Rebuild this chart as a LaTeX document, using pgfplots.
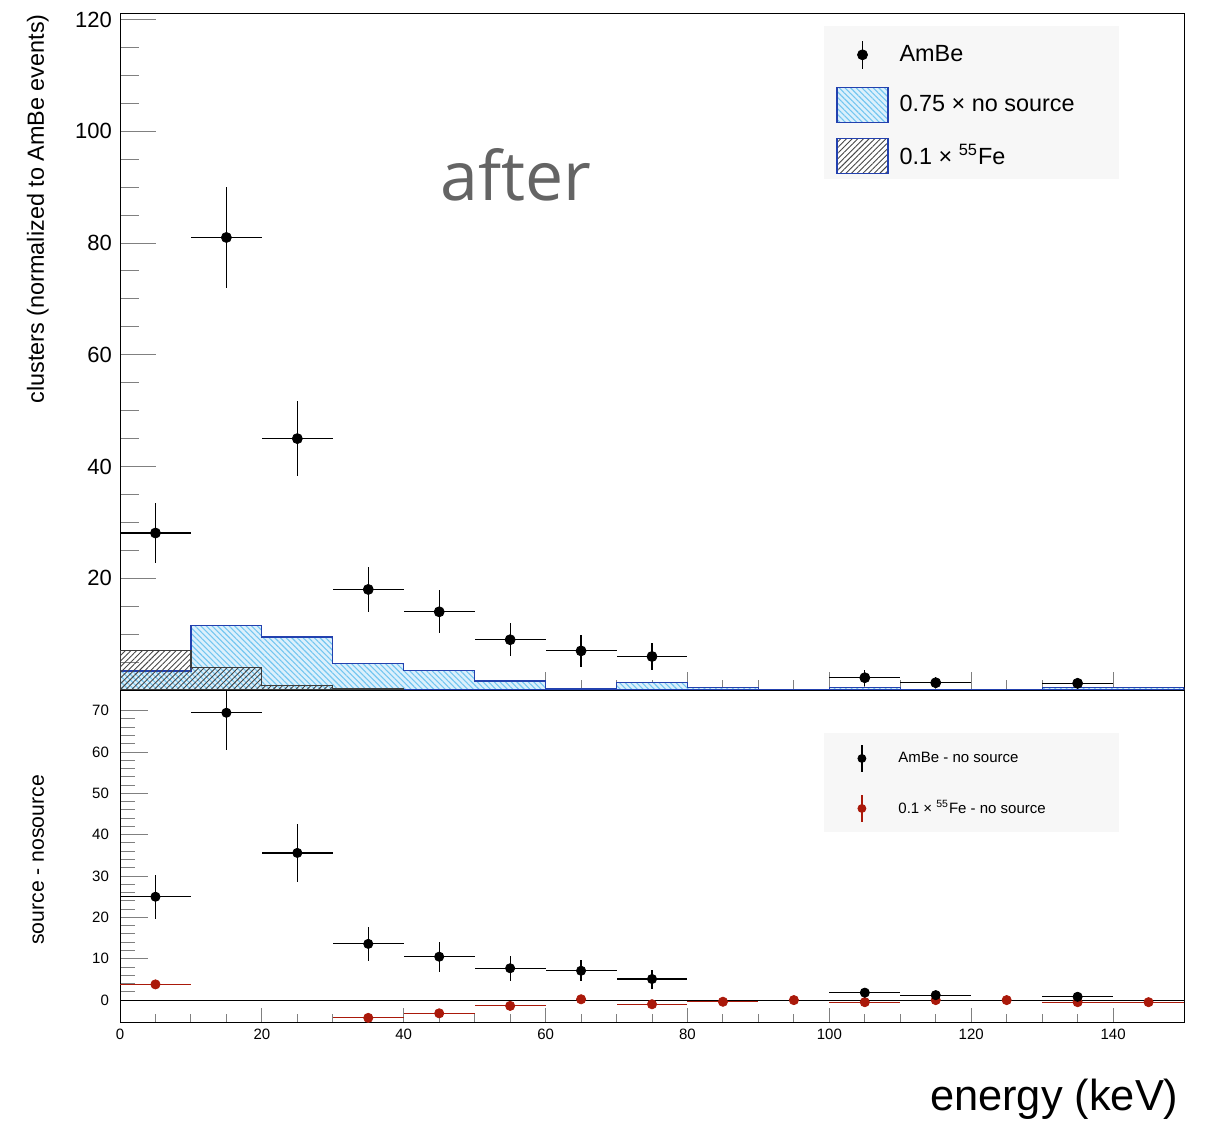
\documentclass[border=0pt]{standalone}
\usepackage{fontspec}
\setmainfont{Liberation Sans}
\newfontfamily\afterfont{Open Sans}
\usepackage{pgfplots}
\usepackage{pgfplotstable}
\pgfplotsset{compat=1.18}
\usetikzlibrary{patterns.meta}
\definecolor{nsfill}{RGB}{220,240,252}
\definecolor{nshatch}{RGB}{115,198,240}
\definecolor{nsline}{RGB}{35,65,175}
\definecolor{fehatch}{RGB}{70,70,70}
\definecolor{feline}{RGB}{60,60,60}
\definecolor{myred}{RGB}{170,25,10}
\definecolor{afterc}{RGB}{100,100,100}
\definecolor{legbg}{RGB}{247,247,247}

\pgfplotstableread{
x y ex ey
5 28.1 5 5.4
15 81.0 5 9.1
25 45.0 5 6.7
35 18.0 5 4.1
45 14.0 5 3.85
55 9.0 5 3.0
65 7.0 5 2.8
75 6.0 5 2.45
105 2.2 5 1.4
115 1.3 5 1.0
135 1.2 5 1.0
}\ambe

\pgfplotstableread{
x y ex ey
5 25.0 5 5.3
15 69.5 5 9.0
25 35.6 5 7.0
35 13.6 5 4.2
45 10.5 5 3.6
55 7.7 5 3.0
65 7.1 5 2.6
75 5.1 5 2.3
105 1.8 5 1.2
115 1.2 5 0.8
135 0.8 5 0.8
}\ambediff

\pgfplotstableread{
x y ex ey
5 3.8 5 0.3
35 -4.3 5 0.3
45 -3.2 5 0.3
55 -1.4 5 0.3
65 0.2 0 0.3
75 -1.0 5 0.3
85 -0.4 5 0.3
95 0.0 0 0.3
105 -0.5 5 0.3
115 0.0 0 0.3
125 0.0 0 0.3
135 -0.5 5 0.3
145 -0.5 5 0.3
}\fediff

\begin{document}
\begin{tikzpicture}
\useasboundingbox (0,0) rectangle (604pt,560.5pt);

% ---------------- top panel ----------------
\begin{axis}[
  at={(60pt,215.5pt)}, anchor=south west,
  width=532pt, height=338pt, scale only axis,
  xmin=0, xmax=150, ymin=0, ymax=121,
  tick pos=left, tick align=inside,
  axis line style={line width=0.5pt},
  xtick={0,20,...,140}, minor x tick num=3, xticklabels={},
  ytick={0,20,...,120}, minor y tick num=3,
  yticklabels={{},20,40,60,80,100,120},
  xtick style={line width=0.5pt, /pgfplots/major tick length=9pt, /pgfplots/minor tick length=5pt},
  ytick style={line width=0.5pt, /pgfplots/major tick length=18pt, /pgfplots/minor tick length=9.5pt},
  /pgf/number format/assume math mode=true,
  yticklabel style={font=\fontsize{11}{13}\selectfont, xshift=-0.5pt},
  ylabel={clusters (normalized to AmBe events)},
  ylabel style={at={(axis description cs:-0.0715,1)}, anchor=base east, inner sep=0pt, font=\fontsize{11.7}{13}\selectfont},
  legend style={at={(axis cs:100.94,116.9)}, anchor=north west, draw=none, fill=none,
    inner sep=0pt, row sep=7.4pt, column sep=5.5pt,
    nodes={inner sep=0pt}, font=\fontsize{11.7}{14}\selectfont},
  legend cell align=left,
]
\fill[legbg] (axis cs:99.25,118.85) rectangle (axis cs:140.85,91.4);

\addplot[const plot mark left, draw=nsline, line width=0.6pt, fill=nsfill,
  postaction={pattern={Lines[angle=-45,distance=2pt,line width=0.55pt]}, pattern color=nshatch}, forget plot]
  coordinates {(0,3.4)(10,11.6)(20,9.5)(30,4.7)(40,3.5)(50,1.6)(60,0.2)(70,1.3)(80,0.5)(90,0)(100,0.4)(110,0)(120,0)(130,0.4)(140,0.4)(150,0.4)} \closedcycle;

\addplot[const plot mark left, draw=feline, line width=0.6pt,
  pattern={Lines[angle=45,distance=2pt,line width=0.45pt]}, pattern color=fehatch, forget plot]
  coordinates {(0,7.0)(10,4.0)(20,0.8)(30,0.3)(40,0.3)} \closedcycle;

\addplot[black, only marks, mark=*, mark size=2.5pt, forget plot,
  error bars/.cd, x dir=both, x explicit, y dir=both, y explicit, error mark=none,
  error bar style={line width=0.6pt, black}]
  table[x=x, y=y, x error=ex, y error=ey] {\ambe};

\node[anchor=base west, font=\afterfont\fontsize{34}{40}\selectfont, text=afterc, inner sep=0pt]
  at (axis cs:45.1,87.6) {after};

\addlegendimage{legend image code/.code={
  \path[draw=none, fill=none] (0pt,-8.75pt) rectangle (25.5pt,8.75pt);
  \draw[black, line width=0.6pt] (12.75pt,-7pt) -- (12.75pt,7pt);
  \fill[black] (12.75pt,0pt) circle (2.5pt);}}
\addlegendentry{AmBe}
\addlegendimage{legend image code/.code={
  \draw[nsline, line width=0.6pt, fill=nsfill,
    postaction={pattern={Lines[angle=-45,distance=2pt,line width=0.55pt]}, pattern color=nshatch}]
    (0pt,-8.75pt) rectangle (25.5pt,8.75pt);}}
\addlegendentry{0.75 × no source}
\addlegendimage{legend image code/.code={
  \draw[nsline, line width=0.6pt, fill=white,
    postaction={pattern={Lines[angle=45,distance=2pt,line width=0.45pt]}, pattern color=fehatch}]
    (0pt,-8.75pt) rectangle (25.5pt,8.75pt);}}
\addlegendentry{0.1 × \textsuperscript{55}Fe}
\end{axis}

% ---------------- bottom panel ----------------
\begin{axis}[
  at={(60pt,49.5pt)}, anchor=south west,
  width=532pt, height=166pt, scale only axis,
  xmin=0, xmax=150, ymin=-5.3, ymax=75,
  tick pos=left, tick align=inside,
  axis line style={line width=0.5pt},
  xtick={0,20,...,140}, minor x tick num=3,
  ytick={0,10,...,70}, minor y tick num=4,
  xtick style={line width=0.5pt, /pgfplots/major tick length=7pt, /pgfplots/minor tick length=4pt},
  ytick style={line width=0.5pt, /pgfplots/major tick length=14pt, /pgfplots/minor tick length=7.5pt},
  /pgf/number format/assume math mode=true,
  yticklabel style={font=\fontsize{7.5}{9}\selectfont, xshift=-2pt},
  xticklabel style={font=\fontsize{7.5}{9}\selectfont},
  ylabel={source - nosource},
  ylabel style={at={(axis description cs:-0.0715,0.488)}, anchor=base, inner sep=0pt, font=\fontsize{10.6}{13}\selectfont},
  xlabel={energy (keV)},
  xlabel style={at={(axis description cs:0.9952,-0.268)}, anchor=base east, inner sep=0pt, font=\fontsize{21.7}{25}\selectfont},
  legend style={at={(axis cs:100.94,62.77)}, anchor=north west, draw=none, fill=none,
    inner sep=0pt, row sep=7.5pt, column sep=5.5pt,
    nodes={inner sep=0pt}, font=\fontsize{7.5}{9}\selectfont},
  legend cell align=left,
]
\fill[legbg] (axis cs:99.25,64.6) rectangle (axis cs:140.85,40.6);

\addplot[black, line width=0.5pt, forget plot] coordinates {(0,0) (150,0)};

\addplot[myred, only marks, mark=*, mark size=2.3pt, forget plot,
  error bars/.cd, x dir=both, x explicit, y dir=both, y explicit, error mark=none,
  error bar style={line width=0.6pt, myred}]
  table[x=x, y=y, x error=ex, y error=ey] {\fediff};

\addplot[black, only marks, mark=*, mark size=2.3pt, forget plot,
  error bars/.cd, x dir=both, x explicit, y dir=both, y explicit, error mark=none,
  error bar style={line width=0.6pt, black}]
  table[x=x, y=y, x error=ex, y error=ey] {\ambediff};

\addlegendimage{legend image code/.code={
  \path[draw=none, fill=none] (0pt,-8.75pt) rectangle (25.5pt,8.75pt);
  \draw[black, line width=0.6pt] (12.75pt,-6.75pt) -- (12.75pt,6.75pt);
  \fill[black] (12.75pt,0pt) circle (2pt);}}
\addlegendentry{AmBe - no source}
\addlegendimage{legend image code/.code={
  \path[draw=none, fill=none] (0pt,-8.75pt) rectangle (25.5pt,8.75pt);
  \draw[myred, line width=0.6pt] (12.75pt,-6.75pt) -- (12.75pt,6.75pt);
  \fill[myred] (12.75pt,0pt) circle (2pt);}}
\addlegendentry{0.1 × \textsuperscript{55}Fe - no source}
\end{axis}
\end{tikzpicture}
\end{document}
